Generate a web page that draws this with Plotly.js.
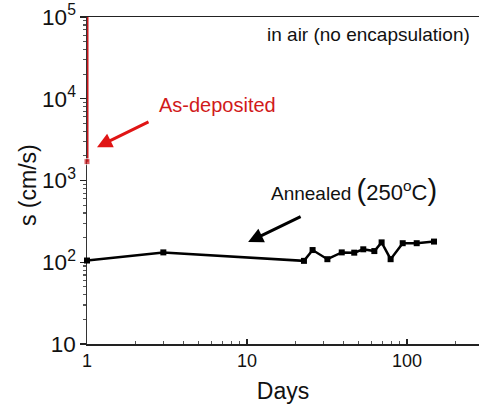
<!DOCTYPE html>
<html>
<head>
<meta charset="utf-8">
<script src="https://cdn.plot.ly/plotly-3.0.1.min.js"></script>
<style>html,body{margin:0;padding:0;background:#fff;}#chart{width:479px;height:407px;}</style>
</head>
<body>
<div id="chart"></div>
<script>
// As-deposited sample (vertical line at day 1)
const asDepDays = [1, 1];
const asDepS = [1700, 100000];

// Annealed (250 °C) sample
const annDays = [1, 3, 22.7, 25.7, 31.8, 39.1, 46.8, 53.3, 62.5, 69.4, 79, 94, 115, 147.5];
const annS = [105, 132, 104, 141, 109, 132, 131, 144, 137, 175, 109, 171, 171, 179];

// Tick labels
const xTickVals = [1, 10, 100];
const xTickText = ['1', '10', '100'];

const font = 'Liberation Sans, Arial, sans-serif';

const traces = [
  {
    x: asDepDays, y: asDepS, type: 'scatter', mode: 'lines+markers',
    line: {color: '#c8161c', width: 3},
    marker: {symbol: 'square', size: [6, 0], color: '#c8161c'},
    cliponaxis: false, showlegend: false
  },
  {
    x: annDays, y: annS, type: 'scatter', mode: 'lines+markers',
    line: {color: '#000', width: 2.5},
    marker: {symbol: 'square', size: 6, color: '#000'},
    cliponaxis: false, showlegend: false
  }
];

const layout = {
  width: 479, height: 407,
  margin: {l: 87, r: 0, t: 17, b: 63},
  paper_bgcolor: '#fff', plot_bgcolor: '#fff',
  font: {family: font, color: '#000'},
  xaxis: {
    type: 'log', range: [0, 2.45],
    tickvals: xTickVals, ticktext: xTickText,
    ticks: 'inside', ticklen: 5, tickwidth: 1.2, tickcolor: '#222',
    minor: {ticks: 'inside', ticklen: 3, tickcolor: '#555', dtick: 'D1'},
    showline: true, linecolor: '#222', linewidth: 1.5,
    mirror: true, layer: 'below traces',
    showgrid: false, zeroline: false,
    tickfont: {size: 18, family: font, color: '#111'},
    title: {text: 'Days', font: {size: 23, family: font, color: '#111'}, standoff: 13}
  },
  yaxis: {
    type: 'log', range: [1, 5],
    dtick: 1, exponentformat: 'power',
    ticks: 'outside', ticklen: 6, tickwidth: 1.2, tickcolor: '#222',
    minor: {ticks: 'outside', ticklen: 3, tickcolor: '#555', dtick: 'D1'},
    showline: true, linecolor: '#333', linewidth: 1.5, layer: 'below traces',
    showgrid: false, zeroline: false,
    tickfont: {size: 18, family: font, color: '#111'}
  },
  annotations: [
    {xref: 'paper', yref: 'paper', x: -0.1505, y: 0.486, xanchor: 'center', yanchor: 'middle',
     text: 's (cm/s)', textangle: -90,
     showarrow: false, font: {size: 23, family: font, color: '#111'}},
    {xref: 'paper', yref: 'paper', x: 0.717, y: 0.945, xanchor: 'center', yanchor: 'middle',
     text: 'in air (no encapsulation)',
     showarrow: false, font: {size: 19, family: font, color: '#111'}},
    {xref: 'paper', yref: 'paper', x: 0.334, y: 0.731, xanchor: 'center', yanchor: 'middle',
     text: 'As-deposited',
     showarrow: false, font: {size: 20, family: font, color: '#d11a1a'}},
    {xref: 'paper', yref: 'paper', x: 0.682, y: 0.471, xanchor: 'center', yanchor: 'middle',
     text: 'Annealed <span style="font-size:29px">(</span><span style="font-size:22px">250<sup>o</sup>C</span><span style="font-size:29px">)</span>',
     showarrow: false, font: {size: 19, family: font, color: '#111'}},
    {xref: 'paper', yref: 'paper', x: 0.0255, y: 0.602, text: '', showarrow: true,
     ax: 53, ay: -26, arrowhead: 2, arrowsize: 1, arrowwidth: 3, arrowcolor: '#e01515', standoff: 0},
    {xref: 'paper', yref: 'paper', x: 0.411, y: 0.312, text: '', showarrow: true,
     ax: 54, ay: -26, arrowhead: 2, arrowsize: 1, arrowwidth: 3, arrowcolor: '#000', standoff: 0}
  ]
};

Plotly.newPlot('chart', traces, layout, {displayModeBar: false, staticPlot: true});
</script>
</body>
</html>
